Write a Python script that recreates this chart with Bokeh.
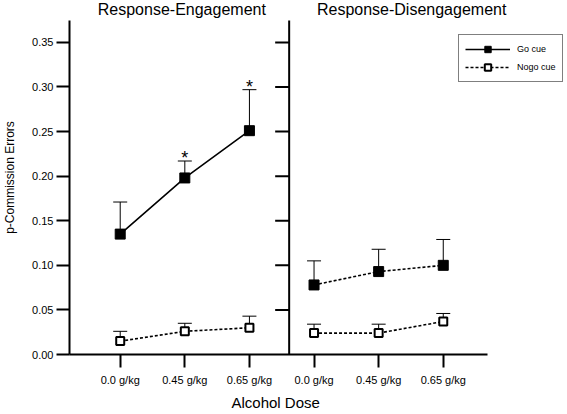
import math
from bokeh.plotting import figure
from bokeh.models import (Range1d, FixedTicker, NumeralTickFormatter, Whisker, ColumnDataSource,
                          Legend, LegendItem, Label, TeeHead, Title)
from bokeh.core.properties import value
from bokeh.embed import file_html
from bokeh.resources import INLINE

# ---------------- data ----------------
doses = ["0.0 g/kg", "0.45 g/kg", "0.65 g/kg"]
panels = ["Response-Engagement", "Response-Disengagement"]
y_ticks = [0.00, 0.05, 0.10, 0.15, 0.20, 0.25, 0.30, 0.35]

eng_go_mean = [0.135, 0.198, 0.251]
eng_go_upper = [0.171, 0.217, 0.297]
eng_go_significant = [False, True, True]
eng_nogo_mean = [0.015, 0.026, 0.030]
eng_nogo_upper = [0.026, 0.035, 0.043]

dis_go_mean = [0.078, 0.093, 0.100]
dis_go_upper = [0.105, 0.118, 0.129]
dis_nogo_mean = [0.024, 0.024, 0.037]
dis_nogo_upper = [0.034, 0.034, 0.046]

# ---------------- layout ----------------
FONT = "Liberation Sans"
n = len(doses)
x_eng = [i for i in range(n)]
x_dis = [n + i for i in range(n)]

X_START, X_END = -0.785, 6.923      # frame spans the whole width right of the y axis
X_AXIS_END = 5.69                   # where the drawn x axis line stops
DIVIDER = 2.615                     # second panel's y axis
Y_END = 0.397                       # frame reaches the top of the page
Y_AXIS_TOP = 0.3747
Y_TITLE = 0.3865

p = figure(width=567, height=414,
           x_range=Range1d(X_START, X_END), y_range=Range1d(0, Y_END),
           output_backend="svg", toolbar_location=None,
           min_border_left=66, min_border_right=0, min_border_top=0, min_border_bottom=59)
p.grid.visible = False
p.outline_line_color = None
p.background_fill_color = "white"
p.border_fill_color = "white"

# x axis
xa = p.xaxis[0]
xa.bounds = (X_START, X_AXIS_END)
xa.ticker = FixedTicker(ticks=x_eng + x_dis)
xa.major_label_overrides = {x: lab for x, lab in zip(x_eng + x_dis, doses * 2)}
xa.major_tick_out = 13
xa.major_tick_in = 0
xa.minor_tick_line_color = None
xa.axis_line_width = 2
xa.axis_line_color = "black"
xa.major_tick_line_width = 2
xa.major_tick_line_color = "black"
xa.major_label_text_font = FONT
xa.major_label_text_font_size = "11px"
xa.major_label_text_color = "black"
xa.major_label_standoff = 6

# y axis
ya = p.yaxis[0]
ya.bounds = (0, Y_AXIS_TOP)
ya.ticker = FixedTicker(ticks=y_ticks)
ya.formatter = NumeralTickFormatter(format="0.00")
ya.major_tick_out = 13
ya.major_tick_in = 0
ya.minor_tick_line_color = None
ya.axis_line_width = 2
ya.axis_line_color = "black"
ya.major_tick_line_width = 2
ya.major_tick_line_color = "black"
ya.major_label_text_font = FONT
ya.major_label_text_font_size = "11px"
ya.major_label_text_color = "black"
ya.major_label_standoff = 3
ya.axis_label = "p-Commission Errors"
ya.axis_label_text_font = FONT
ya.axis_label_text_font_size = "12px"
ya.axis_label_text_font_style = "normal"
ya.axis_label_text_color = "black"
ya.axis_label_standoff = 12

# x axis title, shifted to the centre of the two panels
p.add_layout(Title(text="Alcohol Dose", align="left", offset=162, text_font=FONT,
                   text_font_size="15px", text_font_style="normal", text_color="black",
                   standoff=7), "below")

# second panel's y axis line with outward ticks
p.segment(x0=[DIVIDER], y0=[0], x1=[DIVIDER], y1=[Y_AXIS_TOP], line_color="black", line_width=2)
p.ray(x=[DIVIDER] * (len(y_ticks) - 1), y=y_ticks[1:], length=14, length_units="screen",
      angle=math.pi, line_color="black", line_width=2)

# error bars (upper only)
def add_err(xs, mean, upper):
    src = ColumnDataSource(dict(x=xs, lower=mean, upper=upper))
    w = Whisker(base="x", lower="lower", upper="upper", source=src, dimension="height",
                lower_head=None,
                upper_head=TeeHead(size=14, line_width=1, line_color="black"),
                line_color="black", line_width=1)
    p.add_layout(w)

add_err(x_eng, eng_go_mean, eng_go_upper)
add_err(x_eng, eng_nogo_mean, eng_nogo_upper)
add_err(x_dis, dis_go_mean, dis_go_upper)
add_err(x_dis, dis_nogo_mean, dis_nogo_upper)

# lines and markers
go_line = p.line(x_eng, eng_go_mean, line_color="black", line_width=1.6)
go_pts = p.scatter(x_eng, eng_go_mean, marker="square", size=10, fill_color="black", line_color="black")
nogo_line = p.line(x_eng, eng_nogo_mean, line_color="black", line_width=1.6, line_dash="3 2")
nogo_pts = p.scatter(x_eng, eng_nogo_mean, marker="square", size=8, fill_color="white",
                     line_color="black", line_width=2)

p.line(x_dis, dis_go_mean, line_color="black", line_width=1.6, line_dash="3 2")
p.scatter(x_dis, dis_go_mean, marker="square", size=10, fill_color="black", line_color="black")
p.line(x_dis, dis_nogo_mean, line_color="black", line_width=1.6, line_dash="3 2")
p.scatter(x_dis, dis_nogo_mean, marker="square", size=8, fill_color="white",
          line_color="black", line_width=2)

# significance asterisks
sx = [x for x, s in zip(x_eng, eng_go_significant) if s]
sy = [u for u, s in zip(eng_go_upper, eng_go_significant) if s]
p.text(x=sx, y=sy, text=["*"] * len(sx), text_align="center", text_baseline="alphabetic",
       y_offset=-3, text_font=value(FONT), text_font_size="18px", text_color="black")

# panel titles
p.add_layout(Label(x=x_eng[1], y=Y_TITLE, x_offset=-3, text=panels[0], text_align="center",
                   text_baseline="alphabetic", text_font=FONT,
                   text_font_size="16px", text_color="black"))
p.add_layout(Label(x=x_dis[1], y=Y_TITLE, x_offset=33, text=panels[1], text_align="center",
                   text_baseline="alphabetic", text_font=FONT,
                   text_font_size="16px", text_color="black"))

legend = Legend(items=[LegendItem(label="Go cue", renderers=[go_line, go_pts]),
                       LegendItem(label="Nogo cue", renderers=[nogo_line, nogo_pts])],
                location=(389, 272), border_line_color="black", border_line_width=1,
                label_text_font=FONT, label_text_font_size="9px", label_text_color="black",
                glyph_width=45, glyph_height=16, label_height=16, spacing=2,
                padding=6, margin=0, label_standoff=7, background_fill_alpha=1.0)
p.add_layout(legend)

open("out.html", "w").write(file_html(p, INLINE))
